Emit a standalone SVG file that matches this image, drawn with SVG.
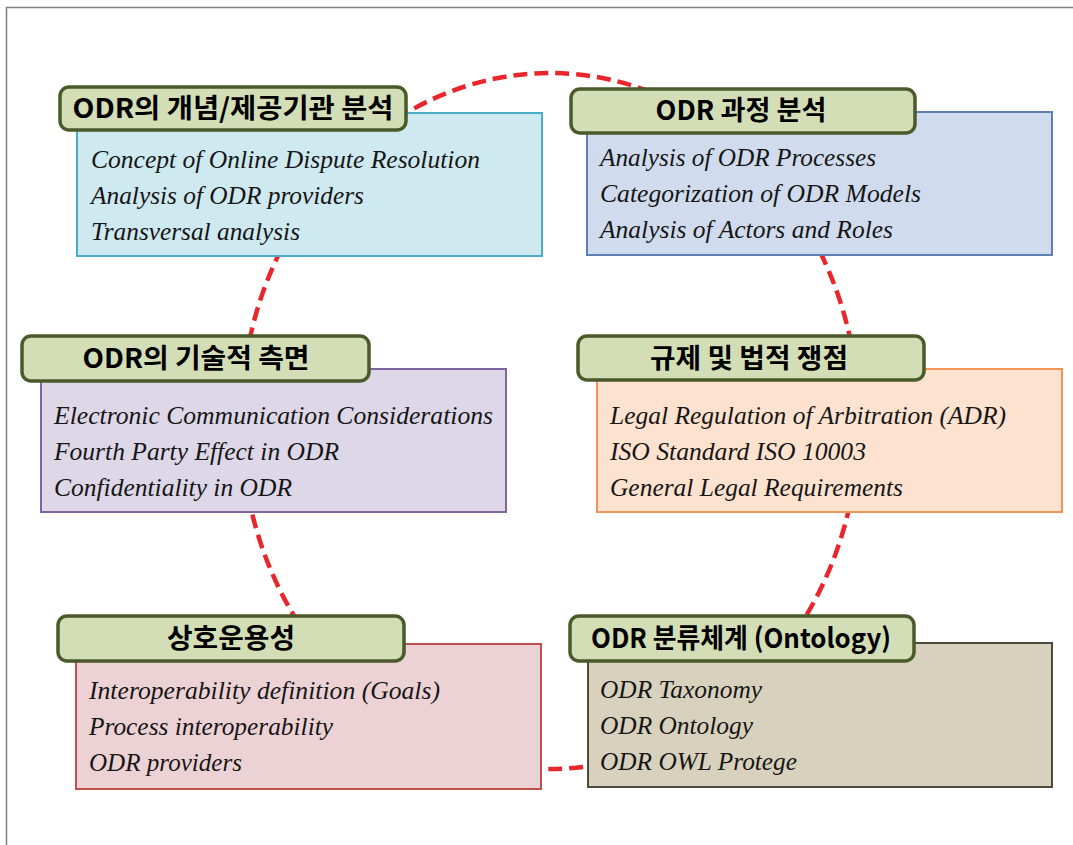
<svg xmlns="http://www.w3.org/2000/svg" width="1073" height="845" viewBox="0 0 1073 845">
<style>
.frame{fill:#ffffff;stroke:#808080;stroke-width:1.5}
.conn{fill:none;stroke:#e8262c;stroke-width:4.5;stroke-dasharray:14 7}
.box{stroke-width:2}
.pill{fill:#d3ddb6;stroke:#4a5a2a;stroke-width:3.5}
.title{font-family:"Noto Sans CJK KR","Noto Sans",sans-serif;font-weight:bold;font-size:27px;fill:#000;text-anchor:middle}
.body{font-family:"Liberation Serif",serif;font-style:italic;font-size:25px;fill:#161616}
</style>
<rect class="frame" x="6.5" y="7.5" width="1100" height="900"/>
<g id="connectors">
<ellipse class="conn" cx="550" cy="421" rx="309" ry="348"/>
</g>
<g id="node1">
<rect class="box" x="77" y="113" width="465" height="143" fill="#cfe9f0" stroke="#4bacc6"/>
<rect class="pill" x="60" y="87" width="346" height="43" rx="9"/>
<text class="title" x="233" y="118" textLength="321" lengthAdjust="spacingAndGlyphs">ODR의 개념/제공기관 분석</text>
<text class="body" x="91" y="168" textLength="389" lengthAdjust="spacingAndGlyphs">Concept of Online Dispute Resolution</text>
<text class="body" x="91" y="204" textLength="273" lengthAdjust="spacingAndGlyphs">Analysis of ODR providers</text>
<text class="body" x="91" y="240" textLength="209" lengthAdjust="spacingAndGlyphs">Transversal analysis</text>
</g>
<g id="node2">
<rect class="box" x="587" y="112" width="465" height="143" fill="#d0dcee" stroke="#5a7fb0"/>
<rect class="pill" x="571" y="89" width="344" height="44" rx="9"/>
<text class="title" x="741" y="120" textLength="171" lengthAdjust="spacingAndGlyphs">ODR 과정 분석</text>
<text class="body" x="600" y="166" textLength="276" lengthAdjust="spacingAndGlyphs">Analysis of ODR Processes</text>
<text class="body" x="600" y="202" textLength="321" lengthAdjust="spacingAndGlyphs">Categorization of ODR Models</text>
<text class="body" x="600" y="238" textLength="293" lengthAdjust="spacingAndGlyphs">Analysis of Actors and Roles</text>
</g>
<g id="node3">
<rect class="box" x="41" y="369" width="465" height="143" fill="#ddd7e8" stroke="#8064a2"/>
<rect class="pill" x="22" y="336" width="347" height="45" rx="9"/>
<text class="title" x="196" y="368" textLength="227" lengthAdjust="spacingAndGlyphs">ODR의 기술적 측면</text>
<text class="body" x="54" y="424" textLength="439" lengthAdjust="spacingAndGlyphs">Electronic Communication Considerations</text>
<text class="body" x="54" y="460" textLength="285" lengthAdjust="spacingAndGlyphs">Fourth Party Effect in ODR</text>
<text class="body" x="54" y="496" textLength="238" lengthAdjust="spacingAndGlyphs">Confidentiality in ODR</text>
</g>
<g id="node4">
<rect class="box" x="597" y="369" width="465" height="143" fill="#fde2cf" stroke="#f0955a"/>
<rect class="pill" x="578" y="336" width="346" height="44" rx="9"/>
<text class="title" x="749" y="368" textLength="198" lengthAdjust="spacingAndGlyphs">규제 및 법적 쟁점</text>
<text class="body" x="610" y="424" textLength="396" lengthAdjust="spacingAndGlyphs">Legal Regulation of Arbitration (ADR)</text>
<text class="body" x="610" y="460" textLength="256" lengthAdjust="spacingAndGlyphs">ISO Standard ISO 10003</text>
<text class="body" x="610" y="496" textLength="293" lengthAdjust="spacingAndGlyphs">General Legal Requirements</text>
</g>
<g id="node5">
<rect class="box" x="76" y="644" width="465" height="145" fill="#edd2d5" stroke="#c0504d"/>
<rect class="pill" x="58" y="616" width="346" height="45" rx="9"/>
<text class="title" x="231" y="648" textLength="128" lengthAdjust="spacingAndGlyphs">상호운용성</text>
<text class="body" x="89" y="699" textLength="351" lengthAdjust="spacingAndGlyphs">Interoperability definition (Goals)</text>
<text class="body" x="89" y="735" textLength="244" lengthAdjust="spacingAndGlyphs">Process interoperability</text>
<text class="body" x="89" y="771" textLength="153" lengthAdjust="spacingAndGlyphs">ODR providers</text>
</g>
<g id="node6">
<rect class="box" x="588" y="643" width="464" height="144" fill="#d8d1bd" stroke="#4d4a3c" stroke-width="2.5"/>
<rect class="pill" x="570" y="616" width="344" height="45" rx="9"/>
<text class="title" x="741" y="648" textLength="300" lengthAdjust="spacingAndGlyphs">ODR 분류체계 (Ontology)</text>
<text class="body" x="600" y="698" textLength="162" lengthAdjust="spacingAndGlyphs">ODR Taxonomy</text>
<text class="body" x="600" y="734" textLength="153" lengthAdjust="spacingAndGlyphs">ODR Ontology</text>
<text class="body" x="600" y="770" textLength="197" lengthAdjust="spacingAndGlyphs">ODR OWL Protege</text>
</g>
</svg>
